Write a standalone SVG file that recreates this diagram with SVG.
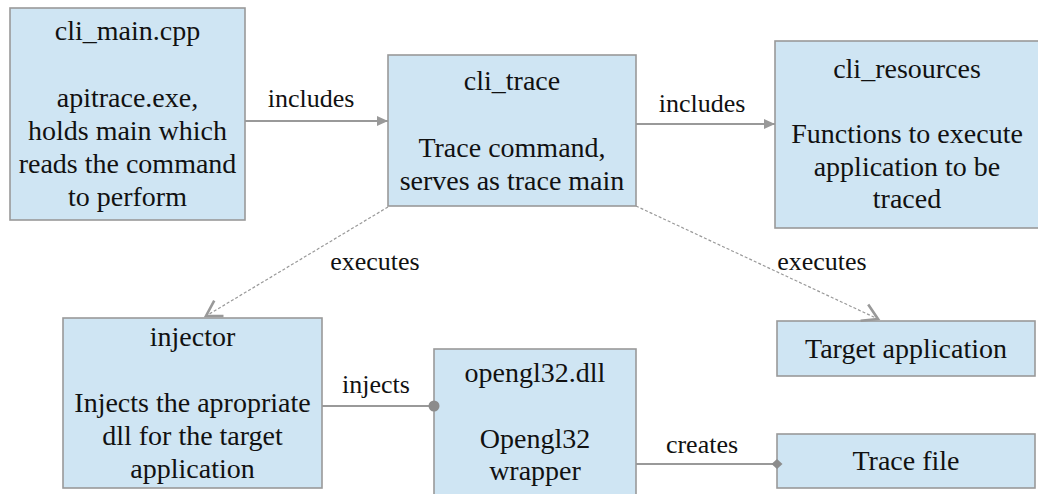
<svg xmlns="http://www.w3.org/2000/svg" width="1038" height="494" viewBox="0 0 1038 494">
<style>
.box{fill:#cfe5f3;stroke:#999999;stroke-width:1.6}
text{font-family:'Liberation Serif','Times New Roman',Times,'DejaVu Serif','Noto Serif',serif;fill:#111111;text-anchor:middle}
.nt{font-size:28px}
.lb{font-size:26px}
.solid{stroke:#999999;stroke-width:2;fill:none}
.dash{stroke:#999999;stroke-width:1.2;stroke-dasharray:3 2;fill:none}
</style>
<defs>
<marker id="tri" markerUnits="userSpaceOnUse" markerWidth="14" markerHeight="14" viewBox="-12 -7 14 14" refX="0" refY="0" orient="auto">
<path d="M-11,-5 L0,0 L-11,5 Z" fill="#999999"/>
</marker>
<marker id="vee" markerUnits="userSpaceOnUse" markerWidth="24" markerHeight="24" viewBox="-18 -12 22 24" refX="0" refY="0" orient="auto">
<path d="M-15,-9 L0,0 L-15,9" fill="none" stroke="#999999" stroke-width="2.6"/>
</marker>
<marker id="dot" markerUnits="userSpaceOnUse" markerWidth="14" markerHeight="14" viewBox="-7 -7 14 14" refX="0" refY="0" orient="auto">
<circle cx="0" cy="0" r="5.5" fill="#8c8c8c"/>
</marker>
<marker id="dia" markerUnits="userSpaceOnUse" markerWidth="14" markerHeight="14" viewBox="-7 -7 14 14" refX="0" refY="0" orient="auto">
<path d="M-5.5,0 L0,-5 L5.5,0 L0,5 Z" fill="#8c8c8c"/>
</marker>
</defs>
<g id="cli_main">
<rect class="box" x="10" y="8" width="235" height="212"/>
<text class="nt" x="127.5" y="40">cli_main.cpp</text>
<text class="nt" x="127.5" y="107">apitrace.exe,</text>
<text class="nt" x="127.5" y="140">holds main which</text>
<text class="nt" x="127.5" y="173">reads the command</text>
<text class="nt" x="127.5" y="206">to perform</text>
</g>
<g id="cli_trace">
<rect class="box" x="388" y="55" width="248" height="151"/>
<text class="nt" x="512" y="90">cli_trace</text>
<text class="nt" x="512" y="157">Trace command,</text>
<text class="nt" x="512" y="190">serves as trace main</text>
</g>
<g id="cli_resources">
<rect class="box" x="775" y="41" width="264" height="187"/>
<text class="nt" x="907" y="78">cli_resources</text>
<text class="nt" x="907" y="143">Functions to execute</text>
<text class="nt" x="907" y="176">application to be</text>
<text class="nt" x="907" y="208">traced</text>
</g>
<g id="injector">
<rect class="box" x="63" y="318" width="259" height="170"/>
<text class="nt" x="192.5" y="346">injector</text>
<text class="nt" x="192.5" y="412">Injects the apropriate</text>
<text class="nt" x="192.5" y="445">dll for the target</text>
<text class="nt" x="192.5" y="478">application</text>
</g>
<g id="opengl32">
<rect class="box" x="434" y="349" width="202" height="160"/>
<text class="nt" x="535" y="382">opengl32.dll</text>
<text class="nt" x="535" y="448">Opengl32</text>
<text class="nt" x="535" y="480">wrapper</text>
</g>
<g id="target_application">
<rect class="box" x="777" y="321" width="258" height="55"/>
<text class="nt" x="906" y="358">Target application</text>
</g>
<g id="trace_file">
<rect class="box" x="777" y="434" width="258" height="54"/>
<text class="nt" x="906" y="470">Trace file</text>
</g>
<g id="connectors">
<line class="solid" x1="245" y1="121" x2="388" y2="121" marker-end="url(#tri)"/>
<text class="lb" x="311" y="107">includes</text>
<line class="solid" x1="636" y1="124" x2="775" y2="124" marker-end="url(#tri)"/>
<text class="lb" x="702" y="112">includes</text>
<line class="dash" x1="388" y1="207" x2="206" y2="316" marker-end="url(#vee)"/>
<text class="lb" x="375" y="270">executes</text>
<line class="dash" x1="636" y1="206" x2="878" y2="319" marker-end="url(#vee)"/>
<text class="lb" x="822" y="270">executes</text>
<line class="solid" x1="322" y1="406" x2="434" y2="406" marker-end="url(#dot)"/>
<text class="lb" x="376" y="393">injects</text>
<line class="solid" x1="636" y1="464" x2="777" y2="464" marker-end="url(#dia)"/>
<text class="lb" x="702" y="453">creates</text>
</g>
</svg>
